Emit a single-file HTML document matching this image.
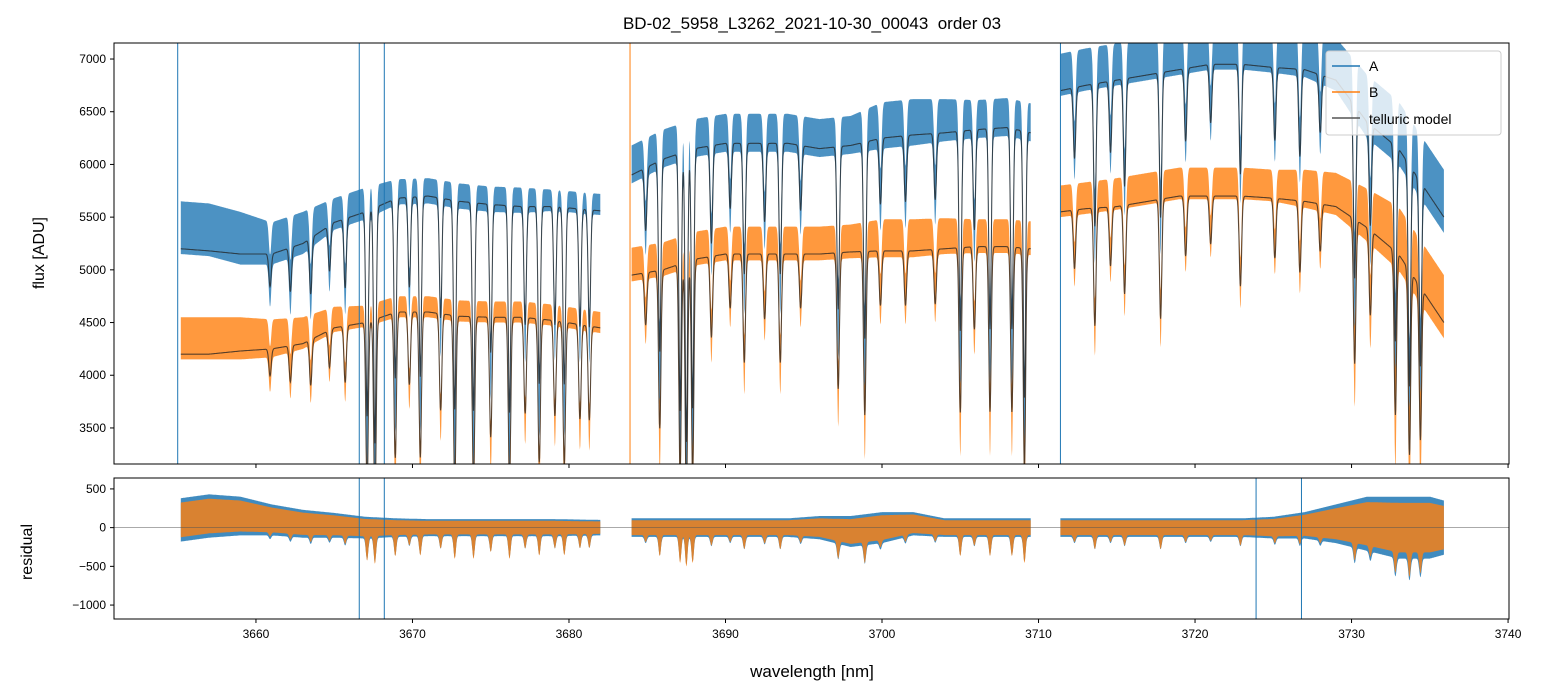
<!DOCTYPE html>
<html><head><meta charset="utf-8"><style>
body{margin:0;background:#fff;}
svg{display:block;font-family:"Liberation Sans","DejaVu Sans",sans-serif;}
</style></head><body>
<svg id="chart" width="1544" height="696" viewBox="0 0 1544 696" xmlns="http://www.w3.org/2000/svg">
<defs>
<clipPath id="clipTop"><rect x="114" y="43" width="1395" height="421"/></clipPath>
<clipPath id="clipBot"><rect x="114" y="478" width="1395" height="141"/></clipPath>
</defs>
<rect width="1544" height="696" fill="#fff"/>
<text x="812" y="29" font-size="17" text-anchor="middle" fill="#000" style="white-space:pre">BD-02_5958_L3262_2021-10-30_00043  order 03</text>
<g id="topData" clip-path="url(#clipTop)"></g>
<g id="botData" clip-path="url(#clipBot)"></g>
<g id="axes"></g>
<text x="44" y="253" font-size="16" text-anchor="middle" transform="rotate(-90 44 253)">flux [ADU]</text>
<text x="32" y="552" font-size="16" text-anchor="middle" transform="rotate(-90 32 552)">residual</text>
<text x="812" y="677" font-size="17" text-anchor="middle">wavelength [nm]</text>
<g>
<rect x="1326" y="51" width="175" height="84" rx="3" fill="#fff" fill-opacity="0.8" stroke="#ccc"/>
<line x1="1332" y1="66" x2="1360" y2="66" stroke="#1f77b4" stroke-width="1.5"/>
<text x="1369" y="71" font-size="14">A</text>
<line x1="1332" y1="92" x2="1360" y2="92" stroke="#ff7f0e" stroke-width="1.5"/>
<text x="1369" y="97" font-size="14">B</text>
<line x1="1332" y1="118" x2="1360" y2="118" stroke="#555" stroke-width="1.5"/>
<text x="1369" y="124" font-size="14">telluric model</text>
</g>
</svg>
<script>
// ---- data ----
const segKnots = [
 [3655.2,3657,3659,3661,3663,3665,3667,3669,3671,3673,3675,3677,3679,3682],
 [3684,3686,3688,3690,3692,3694,3696,3698,3700,3702,3704,3706,3708,3709.5],
 [3711.4,3713,3715,3717,3719,3721,3723,3725,3727,3729,3731,3733,3735,3735.9]
];
const modelA = [
 [5200,5180,5150,5150,5250,5450,5550,5680,5700,5650,5620,5600,5600,5560],
 [5900,6050,6150,6200,6200,6200,6150,6180,6250,6280,6300,6330,6350,6300],
 [6700,6750,6800,6850,6900,6950,6950,6920,6900,6800,6400,6150,5700,5500]
];
const modelB = [
 [4200,4200,4230,4250,4300,4450,4500,4600,4600,4560,4550,4550,4520,4450],
 [4950,5000,5100,5150,5150,5150,5150,5170,5180,5180,5200,5220,5220,5200],
 [5550,5580,5600,5650,5700,5700,5700,5680,5650,5600,5400,5150,4700,4500]
];
const excessA = [
 [200,200,150,100,100,80,80,60,50,50,50,60,60,60],
 [100,100,100,100,100,100,100,100,120,120,120,100,100,100],
 [150,150,150,150,150,150,150,150,150,150,150,150,150,150]
];
const noiseA = [
 [250,250,250,200,200,150,150,120,120,120,120,120,100,100],
 [180,180,180,180,180,180,180,180,220,220,200,180,180,180],
 [200,200,200,200,200,200,200,200,220,250,300,300,300,300]
];
const excessB = [
 [150,150,120,100,100,80,60,50,50,50,50,50,50,50],
 [100,100,100,100,100,100,100,100,120,120,120,100,100,100],
 [100,100,120,120,120,120,120,120,120,120,120,150,150,150]
];
const noiseB = [
 [200,200,200,180,150,120,100,100,100,100,100,100,100,100],
 [160,160,160,160,160,160,160,160,180,180,170,160,160,160],
 [150,150,150,150,150,150,150,150,180,200,250,300,300,300]
];
const residAmp = [
 [280,280,250,200,180,160,140,120,110,110,110,110,110,100],
 [120,120,120,120,120,120,150,200,200,150,120,120,120,120],
 [120,120,120,120,120,120,120,140,170,250,350,400,400,350]
];
const residMean = [
 [100,150,150,100,50,30,0,0,0,0,0,0,0,0],
 [0,0,0,0,0,0,0,-50,0,50,0,0,0,0],
 [0,0,0,0,0,0,0,0,30,50,50,0,0,0]
];
const lineCenters = [3660.9,3662.2,3663.5,3664.7,3665.7,3667.1,3667.6,3668.9,3669.8,3670.5,3671.8,3672.7,3673.9,3675.0,3676.2,3677.2,3678.1,3679.1,3679.7,3680.7,3681.3,
 3684.9,3685.8,3687.1,3687.5,3687.9,3689.1,3690.3,3691.2,3692.5,3693.5,3694.8,3697.2,3698.9,3699.9,3701.5,3703.4,3705.0,3705.9,3706.9,3708.3,3709.1,
 3712.3,3713.6,3714.6,3715.5,3717.8,3719.4,3721.0,3722.9,3725.1,3726.7,3728.0,3730.2,3731.2,3732.8,3733.7,3734.4];
const lineDepths = [0.06,0.08,0.1,0.08,0.12,0.35,0.4,0.3,0.15,0.3,0.2,0.35,0.35,0.25,0.35,0.2,0.3,0.2,0.3,0.2,0.2,
 0.1,0.3,0.4,0.45,0.4,0.15,0.1,0.2,0.12,0.2,0.1,0.25,0.3,0.1,0.1,0.1,0.3,0.15,0.3,0.3,0.4,
 0.1,0.2,0.1,0.15,0.2,0.1,0.08,0.15,0.1,0.12,0.08,0.25,0.15,0.3,0.35,0.3];
const spikesA = [3655.0,3666.6,3668.2,3711.4];
const spikesB = [3683.9];
const residSpikesA = [3723.9,3726.8,3668.2,3666.6];
const xTicks = [3660,3670,3680,3690,3700,3710,3720,3730,3740];
const yTicksTop = [3500,4000,4500,5000,5500,6000,6500,7000];
const yTicksBot = [-1000,-500,0,500];

// ---- scales ----
const xs = w => 114 + (w-3650.93)/(3740.06-3650.93)*1395;
const yt = v => 464 - (v-3158)/(7152-3158)*421;
const yb = v => 619 - (v+1180)/(641+1180)*141;
const NS='http://www.w3.org/2000/svg';
function mk(tag, attrs, parent){const e=document.createElementNS(NS,tag);for(const k in attrs)e.setAttribute(k,attrs[k]);parent.appendChild(e);return e;}
function interp(kn, vals, w){
  if(w<=kn[0])return vals[0];
  for(let i=1;i<kn.length;i++){if(w<=kn[i]){const t=(w-kn[i-1])/(kn[i]-kn[i-1]);return vals[i-1]+t*(vals[i]-vals[i-1]);}}
  return vals[vals.length-1];
}
function absorb(w){let f=1;for(let i=0;i<lineCenters.length;i++){const d=(w-lineCenters[i])/0.11;if(Math.abs(d)<4)f*=1-lineDepths[i]*Math.exp(-d*d);}return f;}

const topG=document.getElementById('topData'), botG=document.getElementById('botData');
function band(up, lo, color, op, parent, name){
  const pts=up.concat(lo.slice().reverse()).map(p=>p[0].toFixed(1)+','+p[1].toFixed(1)).join(' ');
  const el=mk('polygon',{points:pts,fill:color,'fill-opacity':op},parent);
  
  
}
for(let s=0;s<3;s++){
  const kn=segKnots[s];
  const aU=[],aL=[],bU=[],bL=[],mA=[],mB=[],rAU=[],rAL=[],rBU=[],rBL=[];
  for(let w=kn[0];w<=kn[kn.length-1]+1e-9;w+=0.02){
    const f=absorb(w), x=xs(w);
    const ma=interp(kn,modelA[s],w)*f, mb=interp(kn,modelB[s],w)*f;
    const ea=interp(kn,excessA[s],w), na=interp(kn,noiseA[s],w);
    const eb=interp(kn,excessB[s],w), nb=interp(kn,noiseB[s],w);
    const deep=(1-f);
    aU.push([x,yt(ma+ea+na)]); aL.push([x,yt(ma+ea-na-deep*1500)]);
    bU.push([x,yt(mb+eb+nb)]); bL.push([x,yt(mb+eb-nb-deep*1200)]);
    mA.push([x,yt(ma)]); mB.push([x,yt(mb)]);
    const ra=interp(kn,residAmp[s],w), rm=interp(kn,residMean[s],w);
    rAU.push([x,yb(rm+ra)]); rAL.push([x,yb(rm-ra-deep*800)]);
    rBU.push([x,yb(rm+ra*0.8)]); rBL.push([x,yb(rm-ra*0.8-deep*900)]);
  }
  band(aU,aL,'#1f77b4',0.8,topG,'series-a-seg'+(s+1));
  band(bU,bL,'#ff7f0e',0.8,topG,'series-b-seg'+(s+1));
  for(const [arr,nm] of [[mA,'telluric-model-a-seg'],[mB,'telluric-model-b-seg']]){
    const pl=mk('polyline',{points:arr.map(p=>p[0].toFixed(1)+','+p[1].toFixed(1)).join(' '),fill:'none',stroke:'#222','stroke-opacity':0.75,'stroke-width':1.1},topG);
    
    
  }
  band(rAU,rAL,'#1f77b4',0.85,botG,'residual-a-seg'+(s+1));
  band(rBU,rBL,'#ff7f0e',0.8,botG,'residual-b-seg'+(s+1));
}
for(const w of spikesA){const l=mk('line',{x1:xs(w),x2:xs(w),y1:43,y2:464,stroke:'#1f77b4','stroke-width':1},topG);
  
  }
for(const w of spikesB){const l=mk('line',{x1:xs(w),x2:xs(w),y1:43,y2:464,stroke:'#ff7f0e','stroke-width':1},topG);
  
  }
for(const w of residSpikesA){const l=mk('line',{x1:xs(w),x2:xs(w),y1:478,y2:619,stroke:'#1f77b4','stroke-width':1},botG);
  
  }
const zl=mk('line',{x1:114,x2:1509,y1:yb(0),y2:yb(0),stroke:'#555','stroke-width':0.6},botG);



// ---- axes ----
const ax=document.getElementById('axes');
for(const [y0,h,nm] of [[43,421,'flux-panel-frame'],[478,141,'residual-panel-frame']]){
  const r=mk('rect',{x:114,y:y0,width:1395,height:h,fill:'none',stroke:'#000','stroke-width':1},ax);
  
  
}
for(const t of xTicks){
  const x=xs(t);
  mk('line',{x1:x,x2:x,y1:464,y2:468,stroke:'#000'},ax);
  mk('line',{x1:x,x2:x,y1:619,y2:623,stroke:'#000'},ax);
  const tx=mk('text',{x:x,y:638,'font-size':12,'text-anchor':'middle'},ax);
  tx.textContent=t;
  
  
}
for(const t of yTicksTop){
  const y=yt(t);
  mk('line',{x1:110,x2:114,y1:y,y2:y,stroke:'#000'},ax);
  const tx=mk('text',{x:106,y:y+4,'font-size':12,'text-anchor':'end'},ax);
  tx.textContent=t;
  
  
}
for(const t of yTicksBot){
  const y=yb(t);
  mk('line',{x1:110,x2:114,y1:y,y2:y,stroke:'#000'},ax);
  const tx=mk('text',{x:106,y:y+4,'font-size':12,'text-anchor':'end'},ax);
  tx.textContent=String(t).replace('-','\u2212');
  
  
}
</script>
</body></html>
